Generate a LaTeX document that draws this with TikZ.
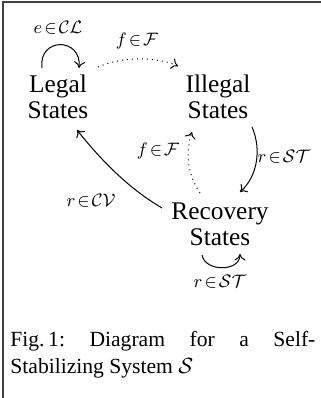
\documentclass[tikz,border=0pt]{standalone}
\usepackage{fontspec}
\setmainfont{Liberation Serif}
\usetikzlibrary{arrows.meta}
\begin{document}
\begin{tikzpicture}[x=0.5pt,y=-0.5pt,
  state/.style={align=center,inner sep=0pt,font=\fontsize{12.7}{13}\selectfont},
  lbl/.style={inner sep=0pt,font=\fontsize{9.5}{9.5}\selectfont},
  edge/.style={line width=0.5pt,-{To[length=3.2pt,width=5.5pt]}},
  dotedge/.style={edge,dotted},
  frameline/.style={line width=0.6pt,draw=black!75}]
\useasboundingbox (0,0) rectangle (321,398);
\draw[frameline] (321,2) -- (3,2) -- (3,398);
\node[state] (legal) at (58,97) {Legal\\States};
\node[state] (illegal) at (218,97) {Illegal\\States};
\node[state] (recov) at (220,224) {Recovery\\States};
\node[lbl] (l1) at (58,28) {$e\!\in\!\mathcal{CL}$};
\node[lbl] (l2) at (137,41) {$f\!\in\!\mathcal{F}$};
\node[lbl] (l3) at (284,157) {$r\!\in\!\mathcal{ST}$};
\node[lbl] (l4) at (158,151) {$f\!\in\!\mathcal{F}$};
\node[lbl] (l5) at (91,201) {$r\!\in\!\mathcal{CV}$};
\node[lbl] (l6) at (220,282) {$r\!\in\!\mathcal{ST}$};
% loop on legal
\draw[edge] ([shift={(-16,-29)}]legal.center) .. controls ([shift={(-20,-60)}]legal.center) and ([shift={(24,-60)}]legal.center) .. ([shift={(21,-29)}]legal.center);
% legal -> illegal (dotted)
\draw[dotedge] ([shift={(40,-30)}]legal.center) .. controls ([shift={(62,-40)}]legal.center) and ([shift={(-63,-41)}]illegal.center) .. ([shift={(-40,-31)}]illegal.center);
% illegal -> recovery
\draw[edge] ([shift={(34,30)}]illegal.center) .. controls ([shift={(44,53)}]illegal.center) and ([shift={(37,-47)}]recov.center) .. ([shift={(20,-32)}]recov.center);
% recovery -> illegal (dotted)
\draw[dotedge] ([shift={(-20,-31)}]recov.center) .. controls ([shift={(-34,-52)}]recov.center) and ([shift={(-32,53)}]illegal.center) .. ([shift={(-26,35)}]illegal.center);
% recovery -> legal
\draw[edge] ([shift={(-58,-16)}]recov.center) .. controls ([shift={(-92,-36)}]recov.center) and ([shift={(43,63)}]legal.center) .. ([shift={(19,33)}]legal.center);
% loop on recovery
\draw[edge] ([shift={(-18,31)}]recov.center) .. controls ([shift={(-15,48)}]recov.center) and ([shift={(20,48)}]recov.center) .. ([shift={(20,30)}]recov.center);
\node[anchor=north west,inner sep=0pt,font=\fontsize{10.8}{13.5}\selectfont,align=left] (cap) at (10,331)
  {\frenchspacing\makebox[152.5pt][s]{Fig.\,1: Diagram for a Self-}\\Stabilizing System $\mathcal{S}$};
\end{tikzpicture}
\end{document}
